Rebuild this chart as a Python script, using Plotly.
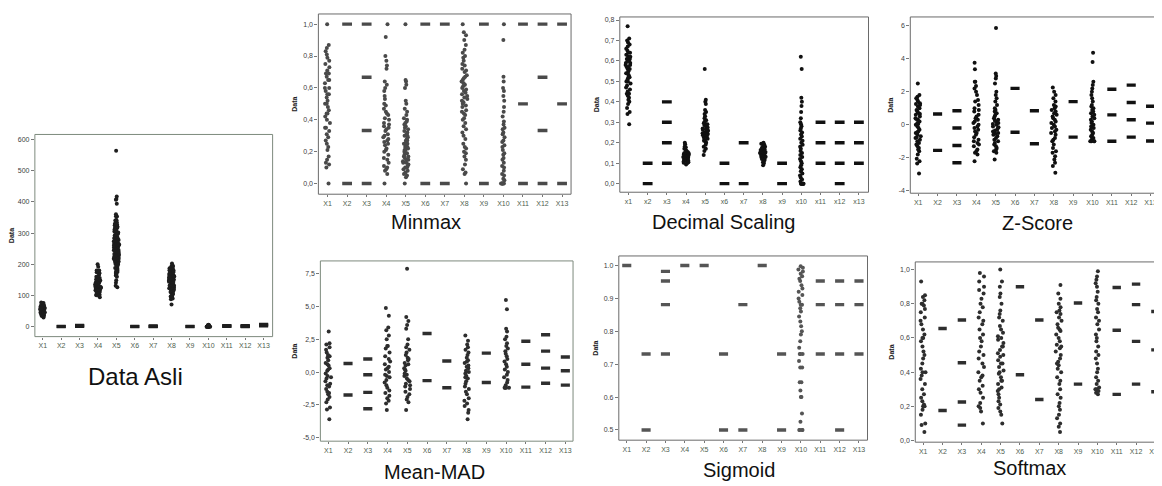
import plotly.graph_objects as go

# The page body has an 8px margin, so the figure is drawn 8px in from the top-left.
OFF = 8
W, H = 1162 - OFF, 486 - OFF

cats_upper = ["X1", "X2", "X3", "X4", "X5", "X6", "X7", "X8", "X9", "X10", "X11", "X12", "X13"]
cats_lower = ["x1", "x2", "x3", "x4", "x5", "x6", "x7", "x8", "x9", "x10", "x11", "x12", "x13"]

# kind of each column: "S" = scattered points, "L" = a few discrete levels (drawn as dashes)
asli_kind = "SLLSSLLSLSLLL"
minmax_kind = "SLLSSLLSLSLLL"
decimal_kind = "SLLSSLLSLSLLL"
zscore_kind = "SLLSSLLSLSLLL"
meanmad_kind = "SLLSSLLSLSLLL"
sigmoid_kind = "LLLLLLLLLSLLL"
softmax_kind = "SLLSSLLSLSLLL"

# ---------------- Data Asli ----------------
asli = [
    [29, 34, 35, 37, 38, 39, 40, 41, 41, 42, 43, 44, 44, 45, 45, 46, 47, 48, 49, 50, 51, 51, 52, 52, 53, 54, 54, 55,
     56, 56, 57, 57, 58, 58, 59, 59, 60, 60, 61, 62, 62, 63, 64, 65, 66, 67, 68, 69, 70, 71, 74, 76, 77],
    [0, 1],
    [1, 2, 3, 4],
    [94, 100, 101, 102, 104, 105, 108, 110, 110, 112, 112, 115, 117, 118, 120, 120, 120, 122, 124, 125, 125, 126,
     128, 128, 130, 130, 130, 132, 134, 135, 135, 136, 138, 140, 140, 140, 142, 144, 145, 146, 148, 150, 150, 150,
     152, 155, 156, 160, 160, 165, 170, 172, 174, 178, 180, 180, 192, 200],
    [126, 131, 141, 149, 160, 164, 168, 172, 175, 177, 180, 182, 185, 188, 190, 192, 195, 197, 199, 201, 203, 204,
     205, 207, 209, 211, 212, 213, 214, 215, 216, 218, 219, 220, 221, 222, 223, 224, 226, 227, 228, 229, 230, 231,
     232, 233, 234, 235, 236, 237, 239, 240, 241, 242, 243, 244, 245, 246, 247, 248, 249, 250, 252, 253, 254, 255,
     256, 258, 259, 260, 261, 262, 263, 264, 265, 266, 267, 268, 269, 270, 271, 273, 274, 275, 276, 277, 278, 280,
     282, 283, 284, 286, 288, 289, 290, 293, 295, 298, 300, 302, 303, 305, 307, 309, 311, 313, 315, 318, 319, 321,
     322, 325, 326, 327, 330, 335, 340, 341, 342, 353, 354, 360, 394, 407, 409, 417, 564],
    [0, 1],
    [0, 1, 2],
    [71, 88, 90, 95, 96, 97, 99, 103, 105, 108, 109, 111, 112, 113, 114, 115, 116, 117, 118, 120, 120, 121, 122, 123,
     125, 125, 126, 127, 128, 129, 130, 131, 132, 132, 133, 134, 136, 138, 140, 140, 141, 142, 143, 144, 145, 145,
     146, 147, 148, 150, 150, 151, 152, 152, 153, 154, 155, 156, 157, 158, 159, 160, 160, 161, 162, 162, 163, 164,
     165, 166, 168, 169, 170, 171, 172, 173, 174, 175, 178, 179, 180, 181, 182, 185, 186, 187, 188, 190, 192, 194,
     195, 202],
    [0, 1],
    [0, 0, 0, 0, 0, 0.1, 0.2, 0.4, 0.6, 0.8, 1, 1.2, 1.4, 1.6, 1.8, 2, 2.2, 2.6, 3, 3.4, 4, 4.4, 5.6, 6.2],
    [1, 2, 3],
    [0, 1, 2, 3],
    [3, 6, 7],
]

# ---------------- Minmax ----------------
minmax = [
    [0, 0.10, 0.12, 0.13, 0.15, 0.17, 0.21, 0.23, 0.25, 0.27, 0.29, 0.31, 0.33, 0.35, 0.35, 0.38, 0.40, 0.42, 0.44,
     0.44, 0.46, 0.48, 0.50, 0.50, 0.52, 0.54, 0.56, 0.56, 0.58, 0.60, 0.60, 0.63, 0.65, 0.65, 0.67, 0.69, 0.69,
     0.71, 0.73, 0.75, 0.77, 0.79, 0.81, 0.83, 0.85, 0.87, 1.0],
    [0, 1],
    [0, 0.333, 0.667, 1],
    [0, 0.06, 0.08, 0.09, 0.1, 0.11, 0.13, 0.15, 0.16, 0.18, 0.2, 0.21, 0.22, 0.24, 0.25, 0.26, 0.27, 0.28, 0.29,
     0.3, 0.31, 0.33, 0.34, 0.35, 0.36, 0.37, 0.38, 0.4, 0.41, 0.43, 0.44, 0.45, 0.47, 0.49, 0.5, 0.53, 0.55, 0.58,
     0.6, 0.62, 0.64, 0.72, 0.74, 0.77, 0.8, 0.92, 1.0],
    [0, 0.04, 0.05, 0.06, 0.07, 0.08, 0.09, 0.1, 0.1, 0.11, 0.12, 0.13, 0.13, 0.14, 0.15, 0.15, 0.16, 0.17, 0.17,
     0.18, 0.19, 0.19, 0.2, 0.21, 0.21, 0.22, 0.23, 0.23, 0.24, 0.25, 0.25, 0.26, 0.27, 0.27, 0.28, 0.29, 0.3, 0.3,
     0.31, 0.32, 0.33, 0.34, 0.35, 0.36, 0.37, 0.38, 0.39, 0.4, 0.41, 0.43, 0.45, 0.47, 0.5, 0.52, 0.6, 0.62, 0.64,
     0.65, 1.0],
    [0, 1],
    [0, 1],
    [0, 0.06, 0.07, 0.09, 0.12, 0.15, 0.17, 0.19, 0.2, 0.22, 0.23, 0.25, 0.28, 0.3, 0.32, 0.34, 0.36, 0.38, 0.4,
     0.41, 0.43, 0.44, 0.45, 0.46, 0.48, 0.49, 0.5, 0.51, 0.52, 0.53, 0.54, 0.55, 0.56, 0.57, 0.58, 0.59, 0.6, 0.61,
     0.62, 0.63, 0.64, 0.65, 0.66, 0.67, 0.68, 0.7, 0.71, 0.72, 0.74, 0.75, 0.77, 0.79, 0.8, 0.82, 0.84, 0.87, 0.9,
     0.93, 0.95, 1.0],
    [0, 1],
    [0, 0, 0, 0, 0, 0, 0.02, 0.03, 0.05, 0.06, 0.08, 0.1, 0.11, 0.13, 0.15, 0.16, 0.18, 0.19, 0.21, 0.23, 0.24,
     0.26, 0.27, 0.29, 0.31, 0.32, 0.34, 0.35, 0.37, 0.39, 0.42, 0.45, 0.48, 0.52, 0.55, 0.58, 0.6, 0.64, 0.67, 0.9,
     1.0],
    [0, 0.5, 1],
    [0, 0.333, 0.667, 1],
    [0, 0.5, 1],
]

# ---------------- Decimal Scaling ----------------
decimal = [
    [0.29, 0.34, 0.35, 0.37, 0.39, 0.4, 0.41, 0.42, 0.43, 0.44, 0.44, 0.45, 0.46, 0.47, 0.48, 0.49, 0.5, 0.5, 0.51,
     0.52, 0.52, 0.53, 0.54, 0.54, 0.55, 0.56, 0.56, 0.57, 0.57, 0.58, 0.58, 0.59, 0.59, 0.6, 0.6, 0.61, 0.61, 0.62,
     0.62, 0.63, 0.64, 0.64, 0.65, 0.66, 0.67, 0.68, 0.69, 0.7, 0.71, 0.77],
    [0, 0.1],
    [0.1, 0.2, 0.3, 0.4],
    [0.094, 0.1, 0.102, 0.105, 0.108, 0.11, 0.112, 0.115, 0.118, 0.12, 0.12, 0.122, 0.125, 0.128, 0.13, 0.13, 0.132,
     0.135, 0.138, 0.14, 0.14, 0.142, 0.145, 0.148, 0.15, 0.15, 0.155, 0.16, 0.165, 0.17, 0.178, 0.18, 0.192, 0.2],
    [0.14, 0.16, 0.17, 0.18, 0.19, 0.2, 0.205, 0.21, 0.215, 0.22, 0.225, 0.23, 0.233, 0.236, 0.24, 0.243, 0.246,
     0.25, 0.253, 0.256, 0.26, 0.263, 0.266, 0.27, 0.275, 0.28, 0.285, 0.29, 0.295, 0.3, 0.305, 0.31, 0.32, 0.33,
     0.34, 0.35, 0.36, 0.39, 0.4, 0.41, 0.56],
    [0, 0.1],
    [0, 0.2],
    [0.09, 0.1, 0.105, 0.11, 0.115, 0.12, 0.122, 0.125, 0.128, 0.13, 0.132, 0.135, 0.138, 0.14, 0.142, 0.145, 0.148,
     0.15, 0.152, 0.155, 0.158, 0.16, 0.162, 0.165, 0.168, 0.17, 0.172, 0.175, 0.18, 0.185, 0.19, 0.195, 0.2],
    [0, 0.1],
    [0, 0, 0, 0, 0, 0, 0.01, 0.02, 0.03, 0.04, 0.05, 0.06, 0.07, 0.08, 0.09, 0.1, 0.11, 0.12, 0.13, 0.14, 0.15,
     0.16, 0.17, 0.18, 0.19, 0.2, 0.21, 0.22, 0.23, 0.24, 0.25, 0.26, 0.27, 0.28, 0.29, 0.3, 0.32, 0.35, 0.38, 0.4,
     0.42, 0.56, 0.62],
    [0.1, 0.2, 0.3],
    [0, 0.1, 0.2, 0.3],
    [0.1, 0.2, 0.3],
]

# ---------------- Z-Score ----------------
zscore = [
    [-2.95, -2.35, -2.2, -2.05, -1.8, -1.6, -1.5, -1.4, -1.3, -1.2, -1.1, -1.0, -0.9, -0.8, -0.75, -0.7, -0.6, -0.5,
     -0.45, -0.4, -0.3, -0.2, -0.1, 0.0, 0.05, 0.1, 0.2, 0.3, 0.35, 0.4, 0.5, 0.6, 0.65, 0.7, 0.8, 0.9, 1.0, 1.1,
     1.2, 1.25, 1.3, 1.4, 1.5, 1.6, 1.7, 1.8, 2.5],
    [-1.55, 0.65],
    [-2.3, -1.25, -0.2, 0.85],
    [-2.2, -1.8, -1.7, -1.6, -1.5, -1.3, -1.2, -1.1, -1.0, -0.9, -0.75, -0.6, -0.5, -0.4, -0.3, -0.2, -0.1, 0.0, 0.1,
     0.2, 0.3, 0.4, 0.5, 0.6, 0.8, 0.9, 1.0, 1.2, 1.4, 1.5, 1.8, 2.0, 2.2, 2.35, 2.6, 2.6, 3.35, 3.75],
    [-2.1, -1.7, -1.6, -1.5, -1.4, -1.3, -1.2, -1.1, -1.0, -0.9, -0.8, -0.7, -0.6, -0.55, -0.5, -0.4, -0.35, -0.3,
     -0.2, -0.15, -0.1, 0.0, 0.05, 0.1, 0.2, 0.25, 0.3, 0.4, 0.5, 0.6, 0.7, 0.8, 0.9, 1.0, 1.2, 1.4, 1.6, 1.8, 2.0,
     2.5, 2.8, 2.95, 3.1, 5.85],
    [-0.45, 2.2],
    [-1.15, 0.85],
    [-2.9, -2.5, -2.3, -2.1, -1.9, -1.7, -1.6, -1.4, -1.2, -1.0, -0.9, -0.8, -0.6, -0.5, -0.4, -0.3, -0.2, -0.1, 0.0,
     0.1, 0.2, 0.3, 0.4, 0.5, 0.6, 0.7, 0.8, 0.9, 1.0, 1.1, 1.2, 1.4, 1.6, 1.8, 2.0, 2.25],
    [-0.75, 1.4],
    [-1.0, -1.0, -1.0, -1.0, -0.9, -0.8, -0.7, -0.6, -0.5, -0.4, -0.3, -0.2, -0.1, 0.0, 0.1, 0.2, 0.3, 0.4, 0.5, 0.6,
     0.7, 0.8, 0.9, 1.0, 1.1, 1.2, 1.4, 1.6, 1.8, 2.0, 2.2, 2.4, 2.6, 3.8, 4.35],
    [-1.0, 0.6, 2.15],
    [-0.75, 0.3, 1.35, 2.4],
    [-0.98, 0.1, 1.12],
]

# ---------------- Mean-MAD ----------------
meanmad = [
    [-3.6, -2.85, -2.7, -2.3, -2.1, -1.9, -1.7, -1.6, -1.5, -1.3, -1.1, -1.0, -0.9, -0.7, -0.5, -0.4, -0.3, -0.1,
     0.1, 0.2, 0.3, 0.5, 0.6, 0.7, 0.9, 1.1, 1.2, 1.3, 1.5, 1.7, 1.9, 2.1, 2.2, 3.1],
    [-1.75, 0.65],
    [-2.8, -1.55, -0.2, 1.0],
    [-2.9, -2.4, -2.2, -2.0, -1.8, -1.6, -1.4, -1.2, -1.0, -0.8, -0.6, -0.4, -0.3, -0.2, 0.0, 0.2, 0.3, 0.4, 0.6,
     0.8, 1.0, 1.2, 1.5, 1.8, 2.0, 2.0, 2.5, 2.8, 3.2, 3.4, 4.3, 4.9],
    [-2.9, -2.3, -2.1, -1.9, -1.7, -1.5, -1.3, -1.1, -1.0, -0.9, -0.7, -0.6, -0.5, -0.3, -0.2, -0.1, 0.1, 0.2, 0.3,
     0.5, 0.6, 0.7, 0.9, 1.0, 1.1, 1.3, 1.5, 1.7, 1.9, 2.1, 2.5, 3.3, 3.6, 3.9, 4.2, 7.9],
    [-0.65, 2.95],
    [-1.2, 0.85],
    [-3.6, -3.1, -2.9, -2.6, -2.4, -2.2, -2.0, -1.7, -1.5, -1.3, -1.1, -0.9, -0.7, -0.5, -0.4, -0.3, -0.1, 0.0, 0.1,
     0.3, 0.4, 0.5, 0.7, 0.8, 0.9, 1.1, 1.3, 1.5, 1.7, 1.9, 2.1, 2.4, 2.8],
    [-0.8, 1.45],
    [-1.2, -1.2, -1.2, -1.2, -1.0, -0.8, -0.6, -0.4, -0.2, 0.0, 0.2, 0.4, 0.6, 0.8, 1.0, 1.2, 1.4, 1.6, 1.8, 2.0,
     2.2, 2.5, 2.7, 3.1, 3.3, 4.8, 5.5],
    [-1.15, 0.6, 2.35],
    [-0.85, 0.3, 1.6, 2.85],
    [-1.0, 0.1, 1.15],
]

# ---------------- Sigmoid ----------------
sigmoid = [
    [1.0],
    [0.5, 0.731],
    [0.731, 0.881, 0.953, 0.982],
    [1.0],
    [1.0],
    [0.5, 0.731],
    [0.5, 0.881],
    [1.0],
    [0.5, 0.731],
    [0.5, 0.5, 0.5, 0.5, 0.525, 0.55, 0.6, 0.6, 0.62, 0.645, 0.645, 0.69, 0.69, 0.71, 0.731, 0.731, 0.731, 0.75,
     0.77, 0.79, 0.8, 0.815, 0.83, 0.845, 0.86, 0.87, 0.881, 0.881, 0.89, 0.9, 0.91, 0.92, 0.93, 0.94, 0.953, 0.96,
     0.967, 0.975, 0.982, 0.988, 0.993, 0.998],
    [0.731, 0.881, 0.953],
    [0.5, 0.731, 0.881, 0.953],
    [0.731, 0.881, 0.953],
]

# ---------------- Softmax ----------------
softmax = [
    [0.05, 0.09, 0.1, 0.15, 0.18, 0.2, 0.2, 0.21, 0.23, 0.25, 0.27, 0.3, 0.33, 0.36, 0.38, 0.4, 0.4, 0.42, 0.45,
     0.48, 0.5, 0.52, 0.55, 0.58, 0.6, 0.6, 0.62, 0.65, 0.68, 0.7, 0.72, 0.75, 0.77, 0.79, 0.8, 0.8, 0.82, 0.84,
     0.85, 0.93],
    [0.175, 0.655],
    [0.09, 0.225, 0.455, 0.705],
    [0.1, 0.17, 0.19, 0.2, 0.22, 0.25, 0.28, 0.3, 0.32, 0.35, 0.37, 0.38, 0.4, 0.43, 0.45, 0.48, 0.5, 0.52, 0.55,
     0.58, 0.6, 0.62, 0.65, 0.68, 0.7, 0.72, 0.75, 0.78, 0.8, 0.83, 0.86, 0.88, 0.9, 0.93, 0.96, 0.98],
    [0.1, 0.15, 0.17, 0.19, 0.21, 0.23, 0.25, 0.27, 0.29, 0.3, 0.31, 0.33, 0.35, 0.35, 0.37, 0.39, 0.4, 0.41, 0.43,
     0.45, 0.45, 0.47, 0.49, 0.5, 0.51, 0.53, 0.55, 0.55, 0.57, 0.59, 0.6, 0.61, 0.63, 0.65, 0.67, 0.7, 0.72, 0.74,
     0.76, 0.8, 0.84, 0.86, 0.9, 0.93, 1.0],
    [0.385, 0.9],
    [0.24, 0.705],
    [0.05, 0.08, 0.1, 0.13, 0.15, 0.18, 0.2, 0.22, 0.25, 0.27, 0.3, 0.33, 0.35, 0.37, 0.4, 0.42, 0.44, 0.45, 0.46,
     0.48, 0.5, 0.52, 0.54, 0.55, 0.56, 0.58, 0.6, 0.62, 0.64, 0.65, 0.66, 0.68, 0.7, 0.72, 0.74, 0.75, 0.76, 0.78,
     0.8, 0.83, 0.86, 0.91],
    [0.33, 0.805],
    [0.27, 0.28, 0.29, 0.3, 0.3, 0.31, 0.33, 0.35, 0.37, 0.4, 0.42, 0.45, 0.48, 0.5, 0.52, 0.55, 0.58, 0.6, 0.62,
     0.65, 0.68, 0.7, 0.72, 0.75, 0.77, 0.8, 0.82, 0.84, 0.87, 0.9, 0.92, 0.94, 0.96, 0.99],
    [0.27, 0.645, 0.895],
    [0.33, 0.58, 0.795, 0.915],
    [0.285, 0.53, 0.755],
]

# tick labels
asli_ticks = [0, 100, 200, 300, 400, 500, 600]
asli_ticktext = ["0", "100", "200", "300", "400", "500", "600"]
minmax_ticks = [0, 0.2, 0.4, 0.6, 0.8, 1.0]
minmax_ticktext = ["0,0", "0,2", "0,4", "0,6", "0,8", "1,0"]
decimal_ticks = [0, 0.1, 0.2, 0.3, 0.4, 0.5, 0.6, 0.7, 0.8]
decimal_ticktext = ["0,0", "0,1", "0,2", "0,3", "0,4", "0,5", "0,6", "0,7", "0,8"]
z_ticks = [-4, -2, 0, 2, 4, 6]
z_ticktext = ["-4", "-2", "0", "2", "4", "6"]
mad_ticks = [-5, -2.5, 0, 2.5, 5, 7.5]
mad_ticktext = ["-5,0", "-2,5", "0,0", "2,5", "5,0", "7,5"]
sig_ticks = [0.5, 0.6, 0.7, 0.8, 0.9, 1.0]
sig_ticktext = ["0.5", "0.6", "0.7", "0.8", "0.9", "1.0"]
soft_ticks = [0, 0.2, 0.4, 0.6, 0.8, 1.0]
soft_ticktext = ["0,0", "0,2", "0,4", "0,6", "0,8", "1,0"]

titles = ["Data Asli", "Minmax", "Decimal Scaling", "Z-Score", "Mean-MAD", "Sigmoid", "Softmax"]

# ---------------- layout geometry (page pixels) ----------------
panels = [
    dict(d=asli, k=asli_kind, c=cats_upper, tv=asli_ticks, tt=asli_ticktext, xp=(35, 274), yp=(135, 338),
         xr=(-0.43, 12.49), yr=(-32, 616), col="#1e1e1e", tpos=(136, 378), tsize=24, fx1=1.0, fcol="#7d8a7d",
         dash=6.5),
    dict(d=minmax, k=minmax_kind, c=cats_upper, tv=minmax_ticks, tt=minmax_ticktext, xp=(320, 574), yp=(14, 195),
         xr=(-0.47, 12.46), yr=(-0.067, 1.064), col="#4a4a4a", tpos=(428, 223), tsize=20, fx1=1.0, fcol="#6a6a6a",
         dash=7),
    dict(d=decimal, k=decimal_kind, c=cats_lower, tv=decimal_ticks, tt=decimal_ticktext, xp=(623, 873),
         yp=(17, 193), xr=(-0.45, 12.5), yr=(-0.042, 0.815), col="#111111", tpos=(727, 223), tsize=20, fx1=1.0,
         fcol="#6a6a6a", dash=7),
    dict(d=zscore, k=zscore_kind, c=cats_upper, tv=z_ticks, tt=z_ticktext, xp=(915, 1162), yp=(17, 194),
         xr=(-0.41, 12.28), yr=(-4.14, 6.52), col="#111111", tpos=(1043, 224), tsize=20, fx1=1.2, fcol="#6a6a6a",
         dash=6.5),
    dict(d=meanmad, k=meanmad_kind, c=cats_upper, tv=mad_ticks, tt=mad_ticktext, xp=(322, 576), yp=(262, 443),
         xr=(-0.4, 12.39), yr=(-5.28, 8.49), col="#2e2e2e", tpos=(437, 474), tsize=20, fx1=1.0, fcol="#7d8a7d",
         dash=6.5),
    dict(d=sigmoid, k=sigmoid_kind, c=cats_upper, tv=sig_ticks, tt=sig_ticktext, xp=(622, 872), yp=(257, 442),
         xr=(-0.41, 12.44), yr=(0.469, 1.029), col="#555555", tpos=(743, 472), tsize=20, fx1=1.0, fcol="#6a6a6a",
         dash=6.5),
    dict(d=softmax, k=softmax_kind, c=cats_upper, tv=soft_ticks, tt=soft_ticktext, xp=(920, 1162), yp=(263, 444),
         xr=(-0.41, 12.03), yr=(-0.01, 1.045), col="#2e2e2e", tpos=(1035, 470), tsize=20, fx1=1.2, fcol="#6a6a6a",
         dash=6),
]


def px_x(v):
    return (v - OFF) / W


def px_y(v):
    return 1 - (v - OFF) / H


fig = go.Figure()
layout = dict(
    width=W, height=H, margin=dict(l=0, r=0, t=0, b=0),
    paper_bgcolor="white", plot_bgcolor="white", showlegend=False, boxmode="overlay",
    font=dict(family="Liberation Sans, Arial, sans-serif", color="#404040"),
)
shapes = []
annotations = []

for i, p in enumerate(panels):
    n = i + 1
    xa = "x" if n == 1 else f"x{n}"
    ya = "y" if n == 1 else f"y{n}"
    sx, sy, lx, ly = [], [], [], []
    for cat, kind, vals in zip(p["c"], p["k"], p["d"]):
        if kind == "S":
            sx += [cat] * len(vals)
            sy += vals
        else:
            lx += [cat] * len(vals)
            ly += vals
    if sx:
        fig.add_trace(go.Box(
            x=sx, y=sy, xaxis=xa, yaxis=ya,
            boxpoints="all", jitter=0.45, pointpos=0, width=0.7,
            fillcolor="rgba(0,0,0,0)", line=dict(width=0, color="rgba(0,0,0,0)"),
            whiskerwidth=0,
            marker=dict(size=4, color=p["col"], line=dict(width=0)),
            hoverinfo="skip", showlegend=False,
        ))
    if lx:
        fig.add_trace(go.Box(
            x=lx, y=ly, xaxis=xa, yaxis=ya,
            boxpoints="all", jitter=0, pointpos=0, width=0.7,
            fillcolor="rgba(0,0,0,0)", line=dict(width=0, color="rgba(0,0,0,0)"),
            whiskerwidth=0,
            marker=dict(symbol="line-ew", size=p["dash"], color=p["col"],
                        line=dict(width=3.4, color=p["col"])),
            hoverinfo="skip", showlegend=False,
        ))
    xkey = "xaxis" if n == 1 else f"xaxis{n}"
    ykey = "yaxis" if n == 1 else f"yaxis{n}"
    layout[xkey] = dict(
        domain=[max(0, px_x(p["xp"][0])), min(1, px_x(p["xp"][1]))], anchor=ya,
        type="category", categoryorder="array", categoryarray=p["c"],
        range=list(p["xr"]), showgrid=False, zeroline=False, showline=False,
        ticks="outside", ticklen=2, tickcolor="#777", tickwidth=1,
        tickfont=dict(size=7, color="#4e5e4e"), fixedrange=True,
    )
    layout[ykey] = dict(
        domain=[max(0, px_y(p["yp"][1])), min(1, px_y(p["yp"][0]))], anchor=xa,
        range=list(p["yr"]), tickvals=p["tv"], ticktext=p["tt"],
        showgrid=False, zeroline=False, showline=False,
        ticks="outside", ticklen=3, tickcolor="#777", tickwidth=1,
        tickfont=dict(size=7, color="#404040"),
        title=dict(text="<b>Data</b>", font=dict(size=7, color="#222"), standoff=4),
        fixedrange=True,
    )
    shapes.append(dict(type="rect", xref=f"{xa} domain", yref=f"{ya} domain",
                       x0=0, x1=p["fx1"], y0=0, y1=1, line=dict(color=p["fcol"], width=1),
                       layer="above"))
    annotations.append(dict(text=titles[i], xref="paper", yref="paper",
                            x=px_x(p["tpos"][0]), y=px_y(p["tpos"][1]),
                            xanchor="center", yanchor="middle", showarrow=False,
                            font=dict(size=p["tsize"], color="#111",
                                      family="Liberation Sans, Arial, sans-serif")))

layout["shapes"] = shapes
layout["annotations"] = annotations
fig.update_layout(**layout)
fig.write_html("out.html")
